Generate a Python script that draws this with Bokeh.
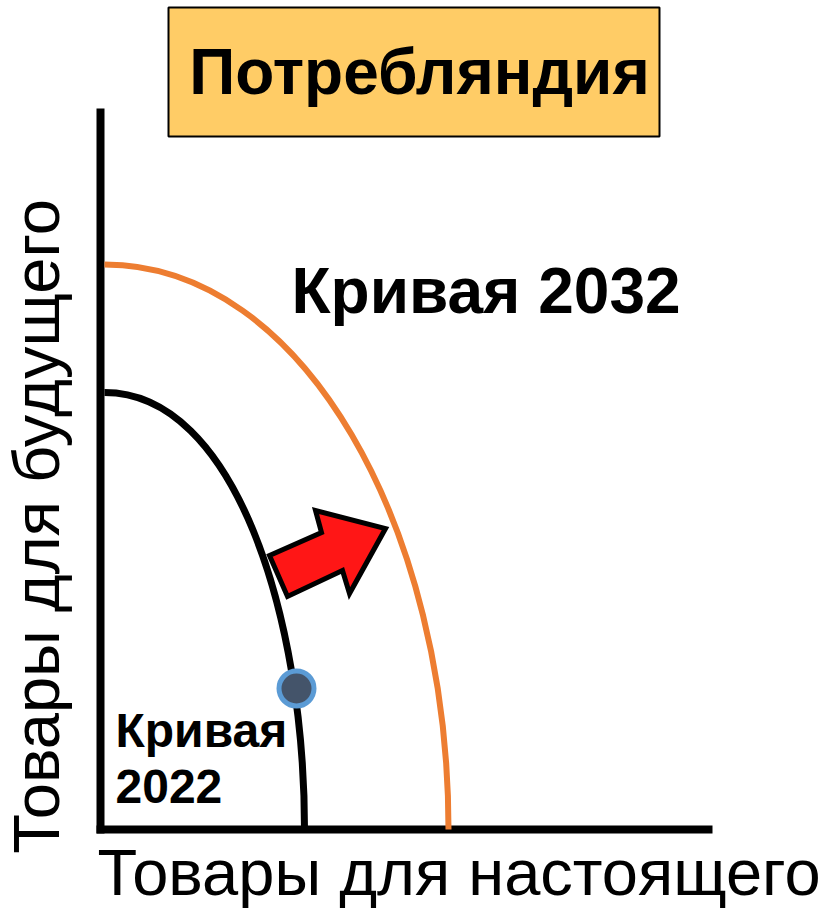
import math
from bokeh.plotting import figure
from bokeh.models import Range1d
from bokeh.core.properties import value
from bokeh.embed import file_html
from bokeh.resources import INLINE

# ---- data (units of goods) ----
# production possibility curves as cubic Bezier: end points and control points
curve_2022_ends_x = [0.4, 20.4]
curve_2022_ends_y = [43.7, 0.0]
curve_2022_ctrl_x = [13.4, 20.4]
curve_2022_ctrl_y = [43.7, 21.4]

curve_2032_ends_x = [0.4, 34.8]
curve_2032_ends_y = [56.5, 0.0]
curve_2032_ctrl_x = [20.4, 34.8]
curve_2032_ctrl_y = [56.5, 30.0]

point_x = [19.6]
point_y = [14.1]

arrow_x = [16.9, 18.7, 24.2, 24.9, 28.5, 21.5, 22.1]
arrow_y = [27.4, 23.3, 25.9, 23.6, 30.1, 31.9, 29.7]

axis_x_max = 61.2
axis_y_max = 72.1

title_text = "Потребляндия"
label_2032 = "Кривая 2032"
label_2022_lines = ["Кривая", "2022"]
x_label = "Товары для настоящего"
y_label = "Товары для будущего"

FONT = value("Liberation Sans")

p = figure(width=821, height=913,
           x_range=Range1d(-10.0, 72.1), y_range=Range1d(-8.4, 82.9),
           output_backend="svg", toolbar_location=None,
           x_axis_location=None, y_axis_location=None,
           min_border=0)
p.grid.visible = False
p.outline_line_color = None
p.background_fill_color = "white"
p.border_fill_color = "white"

# title box
p.quad(left=[6.8], right=[55.9], top=[82.2], bottom=[69.3],
       fill_color="#FFCC66", line_color="black", line_width=2)
p.text(x=[31.9], y=[75.8], text=[title_text], text_font=FONT,
       text_font_size="64px", text_font_style="bold",
       text_align="center", text_baseline="alphabetic", text_color="black")

# axes
p.segment(x0=[0, -0.4], y0=[-0.4, 0], x1=[0, axis_x_max], y1=[axis_y_max, 0],
          line_color="black", line_width=8, line_cap="butt")

# curves
p.bezier(x0=[curve_2032_ends_x[0]], y0=[curve_2032_ends_y[0]],
         x1=[curve_2032_ends_x[1]], y1=[curve_2032_ends_y[1]],
         cx0=[curve_2032_ctrl_x[0]], cy0=[curve_2032_ctrl_y[0]],
         cx1=[curve_2032_ctrl_x[1]], cy1=[curve_2032_ctrl_y[1]],
         line_color="#ED7D31", line_width=6)
p.bezier(x0=[curve_2022_ends_x[0]], y0=[curve_2022_ends_y[0]],
         x1=[curve_2022_ends_x[1]], y1=[curve_2022_ends_y[1]],
         cx0=[curve_2022_ctrl_x[0]], cy0=[curve_2022_ctrl_y[0]],
         cx1=[curve_2022_ctrl_x[1]], cy1=[curve_2022_ctrl_y[1]],
         line_color="black", line_width=7)

# arrow
p.patch(arrow_x, arrow_y, fill_color="#FF1616", line_color="black",
        line_width=5, line_join="miter")

# point
p.scatter(point_x, point_y, size=35, fill_color="#44546A",
          line_color="#5B9BD5", line_width=5)

# labels
p.text(x=[19.1], y=[53.9], text=[label_2032], text_font=FONT,
       text_font_size="64px", text_font_style="bold",
       text_align="left", text_baseline="alphabetic", text_color="black")
p.text(x=[1.5, 1.5], y=[9.9, 4.3], text=label_2022_lines, text_font=FONT,
       text_font_size="48px", text_font_style="bold",
       text_align="left", text_baseline="alphabetic", text_color="black")

p.text(x=[-0.3], y=[-4.3], text=[x_label], text_font=FONT,
       text_font_size="65px", text_align="left",
       text_baseline="alphabetic", text_color="black")
p.text(x=[-6.4], y=[30.3], text=[y_label], text_font=FONT,
       text_font_size="65px", text_align="center", angle=math.pi / 2,
       text_baseline="alphabetic", text_color="black")

open("out.html", "w").write(file_html(p, INLINE))
